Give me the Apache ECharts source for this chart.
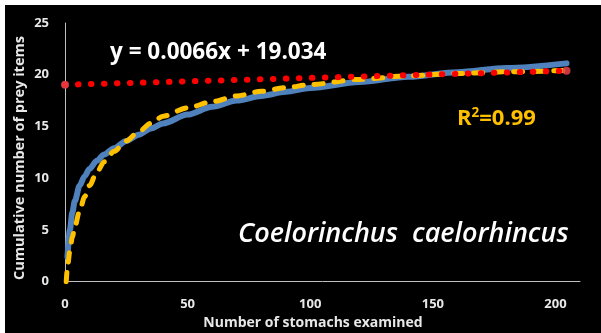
<!DOCTYPE html>
<html><head><meta charset="utf-8">
<script src="https://cdn.jsdelivr.net/npm/echarts@6/dist/echarts.min.js"></script>
<style>
html,body{margin:0;padding:0;background:#fff;width:601px;height:333px;overflow:hidden}
#c{position:absolute;left:5px;top:5px;width:596px;height:328px;background:#000}
</style></head><body>
<div id="c"></div>
<script>
// Observed cumulative curve (blue)
const obsX = [1, 2, 3, 4, 6, 8, 10, 13, 16, 20, 25, 30, 35, 40, 50, 60, 70, 80, 90, 100, 120, 140, 160, 180, 204.5];
const obsY = [2.4, 5.0, 6.7, 7.8, 9.3, 10.2, 10.9, 11.7, 12.3, 12.9, 13.6, 14.2, 14.8, 15.3, 16.15, 16.9, 17.5, 17.95, 18.35, 18.72, 19.3, 19.8, 20.25, 20.65, 21.1];
// Fitted curve (yellow dashed, R²=0.99)
const fitX = [0.5, 1, 2, 3, 4, 6, 8, 10, 13, 16, 20, 25, 30, 35, 40, 50, 60, 70, 80, 90, 100, 120, 140, 160, 180, 204.5];
const fitY = [0, 1.4, 3.0, 4.3, 5.3, 6.9, 8.2, 9.3, 10.6, 11.6, 12.6, 13.6, 14.5, 15.3, 16.0, 16.8, 17.4, 17.95, 18.4, 18.75, 19.05, 19.55, 19.9, 20.12, 20.28, 20.42];
// Linear trend (red dotted): y = 0.0066x + 19.034
const trendX = [0, 204.5];
const trendY = [19.034, 20.384];
const xTicks = [0, 50, 100, 150, 200];
const yTicks = [0, 5, 10, 15, 20, 25];

const pairs = (xs, ys) => xs.map((x, i) => [x, ys[i]]);
const FONT = '"Open Sans", "Noto Sans", sans-serif';

const chart = echarts.init(document.getElementById('c'), null, {renderer: 'canvas'});
chart.setOption({
  backgroundColor: '#000',
  animation: false,
  grid: {left: 60, top: 18, right: 21, bottom: 51.3, containLabel: false},
  xAxis: {
    type: 'value', min: 0, max: 210, interval: 50,
    axisLine: {show: true, lineStyle: {color: '#bfbfbf', width: 1}},
    axisTick: {show: false}, splitLine: {show: false},
    axisLabel: {color: '#e8e8e8', fontFamily: FONT, fontWeight: 'bold', fontSize: 13, margin: 16,
      formatter: v => xTicks.includes(v) ? String(v) : ''}
  },
  yAxis: {
    type: 'value', min: 0, max: 25, interval: 5,
    axisLine: {show: true, lineStyle: {color: '#bfbfbf', width: 1}},
    axisTick: {show: false}, splitLine: {show: false},
    axisLabel: {color: '#e8e8e8', fontFamily: FONT, fontWeight: 'bold', fontSize: 13, margin: 16,
      formatter: v => yTicks.includes(v) ? String(v) : ''}
  },
  series: [
    {type: 'line', data: pairs(obsX, obsY), smooth: 0.3, smoothMonotone: 'x', showSymbol: false,
      lineStyle: {color: '#4f81bd', width: 6, cap: 'round'}, z: 2},
    {type: 'line', data: pairs(fitX, fitY), smooth: 0.3, smoothMonotone: 'x', showSymbol: false,
      lineStyle: {color: '#ffc000', width: 5, type: [9, 11], cap: 'round'}, z: 3},
    {type: 'line', data: pairs(trendX, trendY), showSymbol: true, symbol: 'circle', symbolSize: 8,
      itemStyle: {color: '#e8404a', opacity: 0.85},
      lineStyle: {color: '#ff0000', width: 6, type: [0.5, 12.5], cap: 'round'}, z: 4}
  ],
  graphic: [
    {type: 'text', x: 15, y: 153, rotation: Math.PI / 2,
      style: {text: 'Cumulative number of prey items', fill: '#e8e8e8', font: 'bold 14.5px ' + FONT,
        x: 0, y: 0, textAlign: 'center', textVerticalAlign: 'middle'}},
    {type: 'text', style: {text: 'Number of stomachs examined', fill: '#e8e8e8', font: 'bold 14px ' + FONT,
        x: 308, y: 318, textAlign: 'center', textVerticalAlign: 'middle'}},
    {type: 'text', style: {text: 'y = 0.0066x + 19.034', fill: '#ffffff', font: 'bold 22.5px ' + FONT,
        x: 105, y: 48, textAlign: 'left', textVerticalAlign: 'middle'}},
    {type: 'text', style: {text: '{r|R}{s|2}{r|=0.99}', fill: '#ffc000', x: 452, y: 113,
        textAlign: 'left', textVerticalAlign: 'middle',
        rich: {r: {fill: '#ffc000', font: 'bold 22px ' + FONT, verticalAlign: 'bottom'},
               s: {fill: '#ffc000', font: 'bold 13.5px ' + FONT, verticalAlign: 'top', padding: [0, 0, 9, 0]}}}},
    {type: 'text', style: {text: 'Coelorinchus  caelorhincus', fill: '#ffffff', font: 'italic 600 27px ' + FONT,
        x: 233, y: 229, textAlign: 'left', textVerticalAlign: 'middle'}}
  ]
});
</script>
</body></html>
